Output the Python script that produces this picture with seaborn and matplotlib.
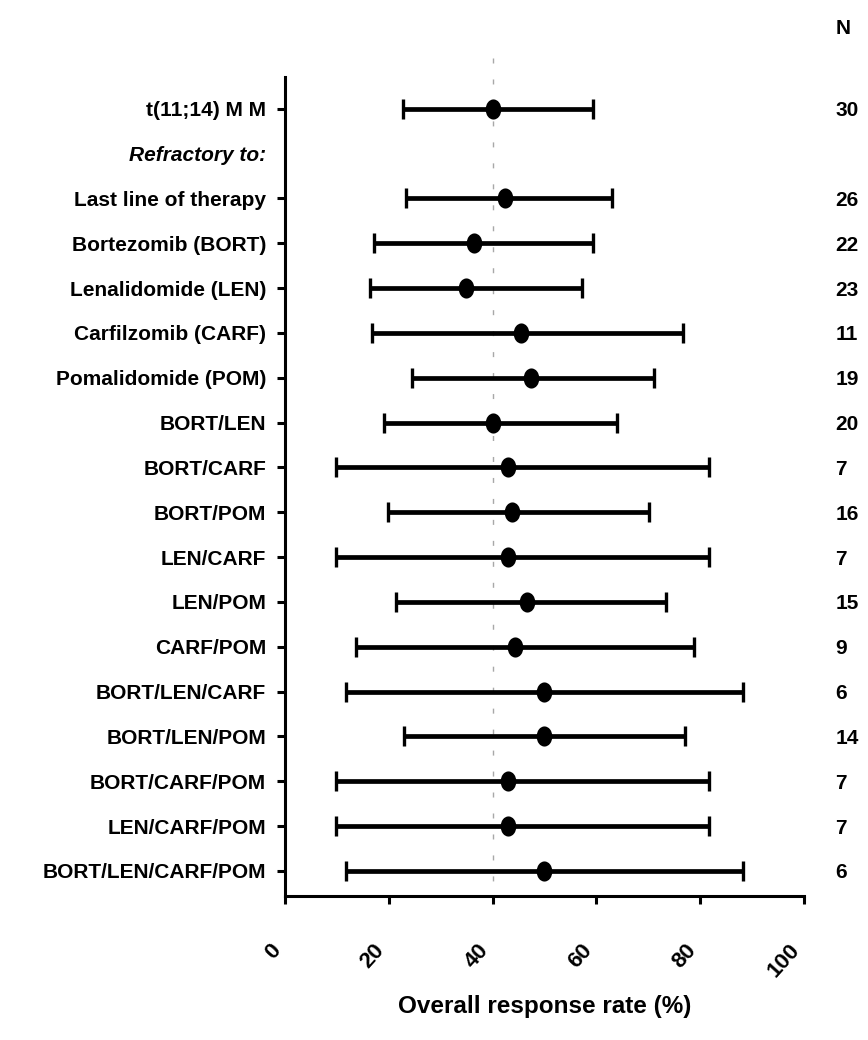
import numpy as np
import pandas as pd
import matplotlib
matplotlib.use("Agg")
import matplotlib.pyplot as plt
from matplotlib.path import Path
import seaborn as sns

labels = ["t(11;14) M M", "Refractory to:", "Last line of therapy", "Bortezomib (BORT)",
          "Lenalidomide (LEN)", "Carfilzomib (CARF)", "Pomalidomide (POM)", "BORT/LEN",
          "BORT/CARF", "BORT/POM", "LEN/CARF", "LEN/POM", "CARF/POM", "BORT/LEN/CARF",
          "BORT/LEN/POM", "BORT/CARF/POM", "LEN/CARF/POM", "BORT/LEN/CARF/POM"]
orr = [40.0, np.nan, 42.3, 36.4, 34.8, 45.5, 47.4, 40.0, 42.9, 43.8, 42.9, 46.7, 44.4,
       50.0, 50.0, 42.9, 42.9, 50.0]
ci_low = [22.7, np.nan, 23.4, 17.2, 16.4, 16.7, 24.4, 19.1, 9.9, 19.8, 9.9, 21.3, 13.7,
          11.8, 23.0, 9.9, 9.9, 11.8]
ci_high = [59.4, np.nan, 63.1, 59.3, 57.3, 76.6, 71.1, 63.9, 81.6, 70.1, 81.6, 73.4, 78.8,
           88.2, 77.0, 81.6, 81.6, 88.2]
n_pts = ["30", "", "26", "22", "23", "11", "19", "20", "7", "16", "7", "15", "9",
         "6", "14", "7", "7", "6"]
x_ticks = [0, 20, 40, 60, 80, 100]
ref_line = 40

sns.set_theme(style="ticks")
plt.rcParams["font.family"] = ["Liberation Sans", "DejaVu Sans"]
plt.rcParams["font.weight"] = "bold"
plt.rcParams["text.color"] = "black"
plt.rcParams["axes.labelcolor"] = "black"
plt.rcParams["xtick.color"] = "black"
plt.rcParams["ytick.color"] = "black"

df = pd.DataFrame({"label": labels, "orr": orr, "lo": ci_low, "hi": ci_high, "n": n_pts})
df["pos"] = np.arange(len(df))
valid = df.dropna(subset=["orr"])

fig, ax = plt.subplots(figsize=(8.68, 10.4), dpi=100)
fig.subplots_adjust(left=0.3283, right=0.9263, top=0.926, bottom=0.1385)

# reference dashed line
ax.plot([ref_line, ref_line], [-1.14, 17.4], color="#a8a8a8", lw=1.0,
        dashes=(3.6, 11.5), clip_on=False, zorder=1)

ax.errorbar(valid["orr"], valid["pos"],
            xerr=[valid["orr"] - valid["lo"], valid["hi"] - valid["orr"]],
            fmt="none", ecolor="black", elinewidth=3.4, capsize=7, capthick=2.4,
            zorder=3)

circ = Path.unit_circle()
ell = Path(circ.vertices * np.array([0.78, 1.0]), circ.codes)
sns.scatterplot(data=valid, x="orr", y="pos", marker=ell, s=210, color="black",
                edgecolor="black", linewidth=0, zorder=5, ax=ax, legend=False)

ax.set_xlim(0, 100)
ax.set_ylim(17.56, -0.71)
ax.set_xticks(x_ticks)
ax.set_xticklabels([str(t) for t in x_ticks])
ax.set_yticks(df["pos"])
ax.set_yticklabels(df["label"])

for s in ["top", "right"]:
    ax.spines[s].set_visible(False)
for s in ["left", "bottom"]:
    ax.spines[s].set_linewidth(2.2)
    ax.spines[s].set_color("black")

ax.tick_params(axis="both", width=2.2, length=5.5, color="black", direction="out")
ax.tick_params(axis="y", labelsize=15, pad=8)
ax.tick_params(axis="x", labelsize=16, pad=26)
plt.setp(ax.get_xticklabels(), rotation=48, ha="right", va="top", fontweight="bold")
for lab in ax.get_yticklabels():
    lab.set_fontweight("bold")
ax.get_yticklabels()[1].set_style("italic")
ax.yaxis.get_major_ticks()[1].tick1line.set_visible(False)

ax.set_xlabel("Overall response rate (%)", fontsize=17.5, fontweight="bold", labelpad=10)
ax.set_ylabel("")

for _, r in df.iterrows():
    if r["n"]:
        ax.text(106, r["pos"], r["n"], ha="left", va="center_baseline", fontsize=15,
                fontweight="bold", clip_on=False)
ax.text(107.5, -1.83, "N", ha="center", va="center_baseline", fontsize=15,
        fontweight="bold", clip_on=False)

fig.savefig("out.png", dpi=100)
